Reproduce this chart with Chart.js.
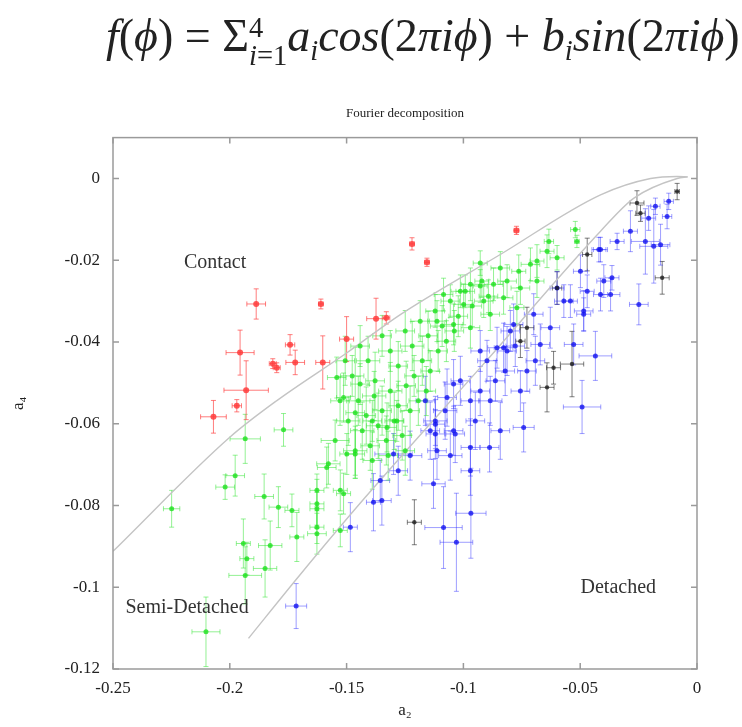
<!DOCTYPE html>
<html>
<head>
<meta charset="utf-8">
<script src="https://cdn.jsdelivr.net/npm/chart.js@4.4.1/dist/chart.umd.min.js"></script>
<style>
  html, body { margin: 0; padding: 0; background: #fff; }
  #wrap { position: relative; width: 742px; height: 727px; overflow: hidden; filter: blur(0.45px); }
  #formula {
    position: absolute; top: 9px; left: 106px; white-space: nowrap;
    font-family: "Liberation Serif", "DejaVu Serif", serif; font-size: 46px; color: #222;
  }
  #formula i { font-style: italic; }
  #formula sub { font-size: 62%; vertical-align: -0.3em; }
  #formula .lim { display: inline-block; vertical-align: -0.5em; font-size: 62%; line-height: 1.0; text-align: left; }
  #formula .lim span { display: block; }
  canvas { position: absolute; top: 0; left: 0; }
</style>
</head>
<body>
<div id="wrap">
  <canvas id="chart" width="742" height="727"></canvas>
  <div id="formula"><i>f</i>(<i>ϕ</i>) = Σ<span class="lim"><span>4</span><span><i>i</i>=1</span></span><i>a<sub>i</sub>cos</i>(2<i>πiϕ</i>) + <i>b<sub>i</sub>sin</i>(2<i>πiϕ</i>)</div>
</div>
<script>
// axis ticks
const xTicks = [-0.25, -0.2, -0.15, -0.1, -0.05, 0];
const xTickLabels = ["-0.25", "-0.2", "-0.15", "-0.1", "-0.05", "0"];
const yTicks = [0, -0.02, -0.04, -0.06, -0.08, -0.1, -0.12];
const yTickLabels = ["0", "-0.02", "-0.04", "-0.06", "-0.08", "-0.1", "-0.12"];

// boundary curves [a2, a4]
const upperCurve = [
  [-0.25, -0.0912], [-0.2, -0.0633], [-0.18, -0.0544], [-0.15, -0.0427],
  [-0.127, -0.0333], [-0.0842, -0.0186], [-0.0413, -0.004], [-0.0199, 0.0],
  [-0.0085, 0.0005], [-0.004, 0.0004],
];
const lowerCurve = [
  [-0.192, -0.1125], [-0.17, -0.097], [-0.142, -0.078], [-0.09, -0.0445],
  [-0.0413, -0.0129], [-0.027, -0.0048], [-0.0085, 0.0], [-0.004, 0.0004],
];

// points [a2, a4, err a2, err a4]
const contactPoints = [
  [-0.207, -0.0583, 0.0055, 0.004], [-0.197, -0.0556, 0.002, 0.0015],
  [-0.193, -0.0518, 0.0095, 0.0072], [-0.1956, -0.0426, 0.006, 0.0055],
  [-0.1887, -0.0307, 0.004, 0.0037], [-0.1816, -0.0453, 0.0015, 0.0012],
  [-0.1799, -0.0463, 0.0015, 0.0012], [-0.1742, -0.0407, 0.002, 0.0025],
  [-0.172, -0.045, 0.004, 0.003], [-0.161, -0.0307, 0.001, 0.0012],
  [-0.1602, -0.045, 0.003, 0.0065], [-0.15, -0.0393, 0.003, 0.0055],
  [-0.1374, -0.0343, 0.004, 0.005], [-0.133, -0.0341, 0.0015, 0.0015],
  [-0.122, -0.016, 0.001, 0.0015], [-0.1156, -0.0205, 0.001, 0.001],
  [-0.0773, -0.0127, 0.001, 0.001],
];

const semiDetachedPoints = [
  [-0.2249, -0.0808, 0.0035, 0.0045], [-0.1934, -0.0637, 0.0065, 0.006],
  [-0.1977, -0.0727, 0.004, 0.005], [-0.202, -0.0755, 0.004, 0.003],
  [-0.177, -0.0615, 0.004, 0.004], [-0.1853, -0.0778, 0.004, 0.0055],
  [-0.1792, -0.0804, 0.004, 0.005], [-0.1734, -0.0812, 0.003, 0.004],
  [-0.1713, -0.0877, 0.003, 0.006], [-0.1627, -0.0869, 0.004, 0.005],
  [-0.1942, -0.0893, 0.003, 0.006], [-0.1827, -0.0898, 0.005, 0.006],
  [-0.1927, -0.093, 0.003, 0.004], [-0.1849, -0.0954, 0.005, 0.007],
  [-0.1934, -0.0971, 0.007, 0.007], [-0.2102, -0.1109, 0.006, 0.0085],
  [-0.1578, -0.0698, 0.005, 0.005], [-0.1463, -0.0674, 0.004, 0.006],
  [-0.1627, -0.0796, 0.003, 0.006], [-0.1527, -0.0861, 0.003, 0.004],
  [-0.1513, -0.0771, 0.003, 0.005], [-0.1627, -0.0808, 0.003, 0.004],
  [-0.1585, -0.0707, 0.004, 0.005], [-0.1499, -0.0674, 0.003, 0.005],
  [-0.1627, -0.0763, 0.003, 0.004], [-0.1527, -0.0763, 0.003, 0.005],
  [-0.1327, -0.0609, 0.004, 0.006], [-0.139, -0.0593, 0.004, 0.005],
  [-0.1285, -0.0593, 0.003, 0.005], [-0.1513, -0.0536, 0.003, 0.006],
  [-0.1442, -0.0503, 0.004, 0.005], [-0.1542, -0.0487, 0.004, 0.005],
  [-0.1627, -0.0853, 0.003, 0.004], [-0.1463, -0.0573, 0.004, 0.016],
  [-0.0521, -0.0125, 0.002, 0.002], [-0.0514, -0.0154, 0.001, 0.0015],
  [-0.0642, -0.0178, 0.003, 0.004], [-0.0599, -0.0194, 0.003, 0.003],
  [-0.0685, -0.0202, 0.003, 0.004], [-0.0634, -0.0154, 0.002, 0.003],
  [-0.0713, -0.021, 0.004, 0.004], [-0.0763, -0.0227, 0.003, 0.004],
  [-0.0842, -0.0219, 0.004, 0.004], [-0.0928, -0.0207, 0.003, 0.003],
  [-0.0921, -0.0251, 0.003, 0.004], [-0.0871, -0.0259, 0.004, 0.004],
  [-0.0813, -0.0251, 0.004, 0.004], [-0.0756, -0.0268, 0.004, 0.004],
  [-0.0685, -0.0251, 0.003, 0.004], [-0.097, -0.0259, 0.004, 0.004],
  [-0.1013, -0.0276, 0.004, 0.004], [-0.1085, -0.0284, 0.004, 0.004],
  [-0.0999, -0.0308, 0.004, 0.005], [-0.0913, -0.03, 0.004, 0.004],
  [-0.0828, -0.0292, 0.004, 0.004], [-0.1113, -0.0349, 0.004, 0.005],
  [-0.1042, -0.0357, 0.004, 0.005], [-0.097, -0.0365, 0.004, 0.005],
  [-0.0885, -0.0332, 0.004, 0.004], [-0.0771, -0.0316, 0.003, 0.004],
  [-0.1506, -0.0446, 0.004, 0.006], [-0.1476, -0.0483, 0.005, 0.005],
  [-0.1442, -0.041, 0.004, 0.005], [-0.1408, -0.0446, 0.005, 0.006],
  [-0.1378, -0.0495, 0.004, 0.007], [-0.1348, -0.0385, 0.004, 0.005],
  [-0.1313, -0.0422, 0.005, 0.005], [-0.1279, -0.0459, 0.004, 0.006],
  [-0.1249, -0.0373, 0.004, 0.005], [-0.1219, -0.041, 0.005, 0.006],
  [-0.1185, -0.0349, 0.004, 0.005], [-0.1151, -0.0385, 0.004, 0.006],
  [-0.1121, -0.0324, 0.004, 0.004], [-0.1091, -0.0361, 0.005, 0.005],
  [-0.1056, -0.03, 0.004, 0.004], [-0.1022, -0.0337, 0.004, 0.005],
  [-0.0992, -0.0276, 0.004, 0.004], [-0.0962, -0.0312, 0.004, 0.005],
  [-0.0928, -0.0263, 0.003, 0.004], [-0.0893, -0.0288, 0.004, 0.004],
  [-0.145, -0.0544, 0.005, 0.006], [-0.1416, -0.058, 0.004, 0.007],
  [-0.1382, -0.0532, 0.005, 0.006], [-0.1348, -0.0568, 0.004, 0.006],
  [-0.1313, -0.052, 0.005, 0.007], [-0.1279, -0.0556, 0.004, 0.006],
  [-0.1245, -0.0507, 0.004, 0.006], [-0.1211, -0.0483, 0.004, 0.005],
  [-0.1176, -0.0446, 0.004, 0.006], [-0.1142, -0.0471, 0.004, 0.005],
  [-0.1108, -0.0422, 0.004, 0.005], [-0.1073, -0.0398, 0.004, 0.005],
  [-0.1039, -0.0373, 0.004, 0.005], [-0.1433, -0.0617, 0.005, 0.007],
  [-0.1399, -0.0654, 0.004, 0.006], [-0.1365, -0.0605, 0.005, 0.008],
  [-0.133, -0.0641, 0.004, 0.006], [-0.1296, -0.0593, 0.004, 0.007],
  [-0.1262, -0.0629, 0.004, 0.006], [-0.1228, -0.0568, 0.004, 0.006],
  [-0.1193, -0.0544, 0.004, 0.006], [-0.1159, -0.052, 0.004, 0.006],
  [-0.1493, -0.0593, 0.005, 0.006], [-0.1528, -0.0544, 0.004, 0.006],
  [-0.1463, -0.0666, 0.005, 0.006], [-0.139, -0.069, 0.004, 0.007],
  [-0.1322, -0.0678, 0.004, 0.006], [-0.1549, -0.0641, 0.006, 0.005],
  [-0.1249, -0.0666, 0.004, 0.006],
];

const detachedPoints = [
  [-0.1484, -0.0853, 0.003, 0.006], [-0.1716, -0.1046, 0.0045, 0.0055],
  [-0.1385, -0.0792, 0.003, 0.007], [-0.1349, -0.0788, 0.004, 0.006],
  [-0.1299, -0.0674, 0.008, 0.005], [-0.1356, -0.0739, 0.004, 0.005],
  [-0.1128, -0.0747, 0.005, 0.006], [-0.112, -0.0601, 0.004, 0.006],
  [-0.1113, -0.0666, 0.004, 0.007], [-0.1085, -0.0854, 0.008, 0.01],
  [-0.103, -0.089, 0.007, 0.012], [-0.0968, -0.0819, 0.0065, 0.011],
  [-0.0742, -0.0609, 0.0045, 0.006], [-0.0492, -0.0559, 0.008, 0.0065],
  [-0.097, -0.0658, 0.004, 0.007], [-0.0888, -0.0658, 0.004, 0.006],
  [-0.1035, -0.0625, 0.004, 0.007], [-0.112, -0.0625, 0.004, 0.006],
  [-0.0435, -0.0434, 0.007, 0.006], [-0.0528, -0.0406, 0.004, 0.005],
  [-0.0728, -0.0471, 0.004, 0.005], [-0.0813, -0.0422, 0.004, 0.006],
  [-0.112, -0.0593, 0.005, 0.006], [-0.1042, -0.0617, 0.004, 0.006],
  [-0.097, -0.0544, 0.004, 0.006], [-0.0928, -0.052, 0.004, 0.006],
  [-0.0863, -0.0495, 0.004, 0.005], [-0.0899, -0.0446, 0.004, 0.005],
  [-0.0856, -0.0414, 0.004, 0.005], [-0.1042, -0.0503, 0.004, 0.006],
  [-0.107, -0.0536, 0.004, 0.007], [-0.0178, -0.0068, 0.002, 0.002],
  [-0.0121, -0.0056, 0.002, 0.002], [-0.0207, -0.0097, 0.003, 0.003],
  [-0.0128, -0.0093, 0.002, 0.003], [-0.0221, -0.0154, 0.006, 0.008],
  [-0.0156, -0.0162, 0.004, 0.005], [-0.0185, -0.0166, 0.006, 0.009],
  [-0.0249, -0.0308, 0.004, 0.005], [-0.0342, -0.0154, 0.003, 0.002],
  [-0.0413, -0.0174, 0.003, 0.003], [-0.037, -0.0284, 0.004, 0.004],
  [-0.0413, -0.0284, 0.003, 0.004], [-0.0364, -0.0243, 0.003, 0.003],
  [-0.0499, -0.0227, 0.003, 0.004], [-0.047, -0.0276, 0.003, 0.004],
  [-0.057, -0.03, 0.004, 0.004], [-0.0485, -0.0324, 0.004, 0.005],
  [-0.0399, -0.0251, 0.003, 0.004], [-0.0799, -0.0373, 0.004, 0.005],
  [-0.0699, -0.0332, 0.004, 0.005], [-0.0628, -0.0365, 0.004, 0.005],
  [-0.042, -0.0174, 0.003, 0.003], [-0.0485, -0.0332, 0.003, 0.004],
  [-0.0785, -0.0357, 0.004, 0.005], [-0.0828, -0.0414, 0.004, 0.006],
  [-0.0671, -0.0406, 0.004, 0.005], [-0.0599, -0.0268, 0.003, 0.004],
  [-0.0542, -0.03, 0.003, 0.004], [-0.0285, -0.0129, 0.003, 0.005],
  [-0.1163, -0.0544, 0.004, 0.006], [-0.1078, -0.0568, 0.005, 0.007],
  [-0.1013, -0.0495, 0.004, 0.006], [-0.0949, -0.0593, 0.004, 0.007],
  [-0.0885, -0.0544, 0.005, 0.006], [-0.0821, -0.0471, 0.004, 0.006],
  [-0.0756, -0.052, 0.004, 0.005], [-0.0842, -0.0617, 0.004, 0.007],
  [-0.097, -0.0715, 0.004, 0.006], [-0.1056, -0.0678, 0.005, 0.006],
  [-0.1142, -0.0617, 0.004, 0.007], [-0.1228, -0.0678, 0.005, 0.006],
  [-0.1279, -0.0715, 0.004, 0.006], [-0.0928, -0.0422, 0.004, 0.005],
  [-0.0778, -0.041, 0.004, 0.005], [-0.0692, -0.0446, 0.004, 0.006],
];

const otherPoints = [
  [-0.0257, -0.006, 0.003, 0.003], [-0.0242, -0.0085, 0.002, 0.002],
  [-0.0085, -0.0032, 0.001, 0.002], [-0.0149, -0.0243, 0.003, 0.004],
  [-0.047, -0.0186, 0.002, 0.004], [-0.0599, -0.0268, 0.002, 0.004],
  [-0.0728, -0.0365, 0.003, 0.005], [-0.0614, -0.0463, 0.003, 0.004],
  [-0.0642, -0.0511, 0.003, 0.006], [-0.0535, -0.0454, 0.005, 0.008],
  [-0.121, -0.0841, 0.003, 0.0055], [-0.0756, -0.0398, 0.002, 0.004],
];

// region labels [text, a2, a4]
const regionLabels = [
  ["Contact", -0.2063, -0.0207],
  ["Semi-Detached", -0.2183, -0.1051],
  ["Detached", -0.0337, -0.1002],
];

const serif = '"Liberation Serif", "DejaVu Serif", serif';

function toXY(arr) {
  return arr.map((p) => ({ x: p[0], y: p[1] }));
}

function pointSet(label, pts, color, barColor, radius) {
  return {
    label: label,
    data: toXY(pts),
    errors: pts,
    barColor: barColor,
    backgroundColor: color,
    borderColor: color,
    pointRadius: radius,
    pointBorderWidth: 0,
  };
}

function curveSet(label, pts) {
  return {
    label: label,
    data: toXY(pts),
    showLine: true,
    borderColor: "#c4c4c4",
    borderWidth: 1.4,
    pointRadius: 0,
    cubicInterpolationMode: "monotone",
  };
}

// error bars, frame, inner ticks and region names
const decorPlugin = {
  id: "decor",
  beforeDatasetsDraw(chart) {
    const { ctx, chartArea, scales } = chart;
    const xs = scales.x, ys = scales.y;
    ctx.save();
    ctx.beginPath();
    ctx.rect(chartArea.left, chartArea.top, chartArea.right - chartArea.left, chartArea.bottom - chartArea.top);
    ctx.clip();
    ctx.lineWidth = 1;
    chart.data.datasets.forEach((ds) => {
      if (!ds.errors) return;
      ctx.strokeStyle = ds.barColor;
      ds.errors.forEach((p) => {
        const px = xs.getPixelForValue(p[0]);
        const py = ys.getPixelForValue(p[1]);
        const x0 = xs.getPixelForValue(p[0] - p[2]);
        const x1 = xs.getPixelForValue(p[0] + p[2]);
        const y0 = ys.getPixelForValue(p[1] - p[3]);
        const y1 = ys.getPixelForValue(p[1] + p[3]);
        ctx.beginPath();
        ctx.moveTo(x0, py); ctx.lineTo(x1, py);
        ctx.moveTo(px, y0); ctx.lineTo(px, y1);
        ctx.moveTo(x0, py - 2.5); ctx.lineTo(x0, py + 2.5);
        ctx.moveTo(x1, py - 2.5); ctx.lineTo(x1, py + 2.5);
        ctx.moveTo(px - 2.5, y0); ctx.lineTo(px + 2.5, y0);
        ctx.moveTo(px - 2.5, y1); ctx.lineTo(px + 2.5, y1);
        ctx.stroke();
      });
    });
    ctx.restore();
  },
  afterDraw(chart) {
    const { ctx, chartArea, scales } = chart;
    const { left, right, top, bottom } = chartArea;
    ctx.save();
    ctx.strokeStyle = "#9a9a9a";
    ctx.lineWidth = 1.5;
    ctx.strokeRect(left, top, right - left, bottom - top);
    ctx.beginPath();
    xTicks.forEach((v) => {
      const px = scales.x.getPixelForValue(v);
      ctx.moveTo(px, bottom); ctx.lineTo(px, bottom - 6);
      ctx.moveTo(px, top); ctx.lineTo(px, top + 6);
    });
    yTicks.forEach((v) => {
      const py = scales.y.getPixelForValue(v);
      ctx.moveTo(left, py); ctx.lineTo(left + 6, py);
      ctx.moveTo(right, py); ctx.lineTo(right - 6, py);
    });
    ctx.stroke();
    ctx.fillStyle = "#333";
    ctx.font = "20px " + serif;
    ctx.textAlign = "center";
    ctx.textBaseline = "middle";
    regionLabels.forEach((r) => {
      ctx.fillText(r[0], scales.x.getPixelForValue(r[1]), scales.y.getPixelForValue(r[2]));
    });
    ctx.restore();
  },
};

new Chart(document.getElementById("chart").getContext("2d"), {
  type: "scatter",
  data: {
    datasets: [
      pointSet("Other", otherPoints, "rgba(30,30,30,0.8)", "rgba(40,40,40,0.6)", 2.2),
      pointSet("Detached", detachedPoints, "rgba(20,20,240,0.8)", "rgba(40,40,255,0.45)", 2.5),
      pointSet("Semi-Detached", semiDetachedPoints, "rgba(30,225,30,0.8)", "rgba(60,230,60,0.55)", 2.5),
      pointSet("Contact", contactPoints, "rgba(255,60,60,0.85)", "rgba(255,70,70,0.7)", 3),
      curveSet("upper", upperCurve),
      curveSet("lower", lowerCurve),
    ],
  },
  options: {
    responsive: false,
    devicePixelRatio: 1,
    animation: false,
    layout: { padding: { top: 90, right: 45, bottom: 6, left: 0 } },
    plugins: {
      legend: { display: false },
      tooltip: { enabled: false },
      title: {
        display: true,
        text: "Fourier decomposition",
        fullSize: false,
        color: "#222",
        font: { family: serif, size: 13, weight: "normal" },
        padding: { top: 16, bottom: 16 },
      },
    },
    scales: {
      x: {
        type: "linear",
        min: -0.25,
        max: 0,
        grid: { display: false },
        border: { display: false },
        afterBuildTicks: (s) => { s.ticks = xTicks.map((v) => ({ value: v })); },
        afterFit: (s) => { s.height = 52; },
        ticks: {
          padding: 1,
          color: "#222",
          font: { family: serif, size: 17 },
          maxRotation: 0,
          callback: (v, i) => xTickLabels[i],
        },
        title: {
          display: true,
          text: "a₂",
          color: "#222",
          font: { family: serif, size: 17 },
          padding: { top: 0, bottom: 0 },
        },
      },
      y: {
        type: "linear",
        min: -0.12,
        max: 0.01,
        grid: { display: false },
        border: { display: false },
        afterBuildTicks: (s) => { s.ticks = yTicks.map((v) => ({ value: v })); },
        afterFit: (s) => { s.width = 113; },
        ticks: {
          padding: 5,
          color: "#222",
          font: { family: serif, size: 17 },
          callback: (v, i) => yTickLabels[i],
        },
        title: {
          display: true,
          text: "a₄",
          color: "#222",
          font: { family: serif, size: 17 },
          padding: { top: 8, bottom: 0 },
        },
      },
    },
  },
  plugins: [decorPlugin],
});
</script>
</body>
</html>
